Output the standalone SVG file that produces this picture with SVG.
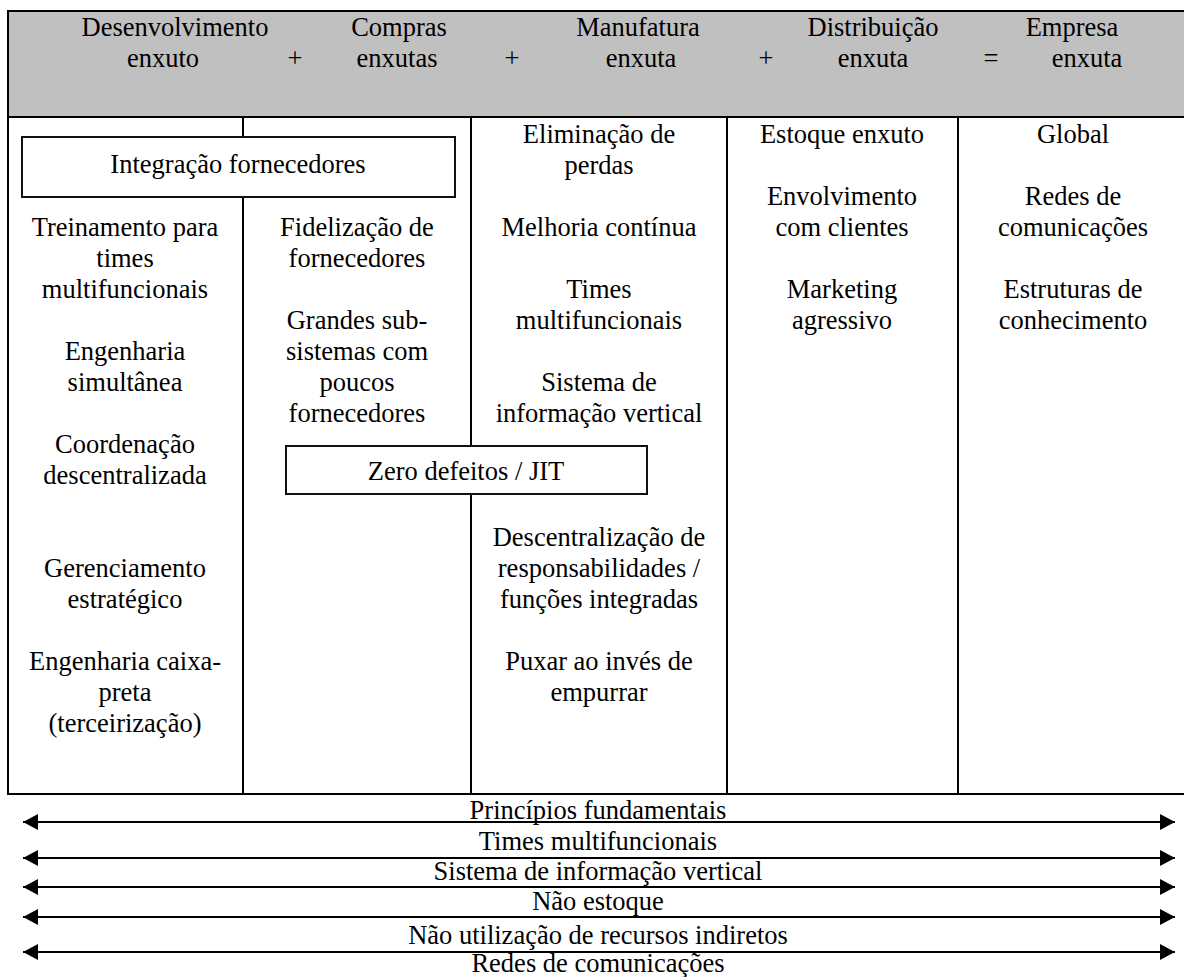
<svg xmlns="http://www.w3.org/2000/svg" width="1184" height="977" viewBox="0 0 1184 977">
<defs>
<style>
text{font-family:"Liberation Serif","Times New Roman",serif;font-size:26.5px;fill:#000;text-anchor:middle}
.grid{stroke:#000;stroke-width:2;fill:none}
.box{fill:#fff;stroke:#111;stroke-width:2}
.arrow{stroke:#000;stroke-width:2;fill:none;marker-start:url(#ah);marker-end:url(#ah)}
</style>
<marker id="ah" markerUnits="userSpaceOnUse" markerWidth="16" markerHeight="16" refX="15" refY="8" orient="auto-start-reverse" viewBox="0 0 16 16">
<path d="M0,0 L15,8 L0,16 z" fill="#000"/>
</marker>
</defs>
<rect width="1184" height="977" fill="#fff"/>
<g id="table">
<rect x="8" y="11" width="1180" height="106" fill="#c0c0c0"/>
<rect class="grid" x="8" y="11" width="1180" height="783"/>
<line class="grid" x1="8" y1="117" x2="1188" y2="117"/>
<line class="grid" x1="243" y1="117" x2="243" y2="794"/>
<line class="grid" x1="471" y1="117" x2="471" y2="794"/>
<line class="grid" x1="727" y1="117" x2="727" y2="794"/>
<line class="grid" x1="958" y1="117" x2="958" y2="794"/>
</g>
<g id="header">
<text x="175" y="36">Desenvolvimento</text>
<text x="163" y="67">enxuto</text>
<text x="295" y="67">+</text>
<text x="399" y="36">Compras</text>
<text x="397" y="67">enxutas</text>
<text x="512" y="67">+</text>
<text x="638" y="36">Manufatura</text>
<text x="641" y="67">enxuta</text>
<text x="766" y="67">+</text>
<text x="873" y="36">Distribuição</text>
<text x="873" y="67">enxuta</text>
<text x="991" y="67">=</text>
<text x="1072" y="36">Empresa</text>
<text x="1087" y="67">enxuta</text>
</g>
<g id="col-desenvolvimento">
<text x="125" y="236">Treinamento para</text>
<text x="125" y="267">times</text>
<text x="125" y="298">multifuncionais</text>
<text x="125" y="360">Engenharia</text>
<text x="125" y="391">simultânea</text>
<text x="125" y="453">Coordenação</text>
<text x="125" y="484">descentralizada</text>
<text x="125" y="577">Gerenciamento</text>
<text x="125" y="608">estratégico</text>
<text x="125" y="670">Engenharia caixa-</text>
<text x="125" y="701">preta</text>
<text x="125" y="732">(terceirização)</text>
</g>
<g id="col-compras">
<text x="357" y="236">Fidelização de</text>
<text x="357" y="267">fornecedores</text>
<text x="357" y="329">Grandes sub-</text>
<text x="357" y="360">sistemas com</text>
<text x="357" y="391">poucos</text>
<text x="357" y="422">fornecedores</text>
</g>
<g id="col-manufatura">
<text x="599" y="143">Eliminação de</text>
<text x="599" y="174">perdas</text>
<text x="599" y="236">Melhoria contínua</text>
<text x="599" y="298">Times</text>
<text x="599" y="329">multifuncionais</text>
<text x="599" y="391">Sistema de</text>
<text x="599" y="422">informação vertical</text>
<text x="599" y="546">Descentralização de</text>
<text x="599" y="577">responsabilidades /</text>
<text x="599" y="608">funções integradas</text>
<text x="599" y="670">Puxar ao invés de</text>
<text x="599" y="701">empurrar</text>
</g>
<g id="col-distribuicao">
<text x="842" y="143">Estoque enxuto</text>
<text x="842" y="205">Envolvimento</text>
<text x="842" y="236">com clientes</text>
<text x="842" y="298">Marketing</text>
<text x="842" y="329">agressivo</text>
</g>
<g id="col-empresa">
<text x="1073" y="143">Global</text>
<text x="1073" y="205">Redes de</text>
<text x="1073" y="236">comunicações</text>
<text x="1073" y="298">Estruturas de</text>
<text x="1073" y="329">conhecimento</text>
</g>
<g id="box-integracao">
<rect class="box" x="22" y="137" width="433" height="60"/>
<text x="238" y="173">Integração fornecedores</text>
</g>
<g id="box-zero-defeitos">
<rect class="box" x="286" y="446" width="361" height="48"/>
<text x="466" y="480">Zero defeitos / JIT</text>
</g>
<g id="connectors">
<line class="arrow" x1="23" y1="822" x2="1175" y2="822"/>
<line class="arrow" x1="23" y1="858" x2="1175" y2="858"/>
<line class="arrow" x1="23" y1="887" x2="1175" y2="887"/>
<line class="arrow" x1="23" y1="917" x2="1175" y2="917"/>
<line class="arrow" x1="23" y1="952" x2="1175" y2="952"/>
</g>
<g id="arrow-labels">
<text x="598" y="819">Princípios fundamentais</text>
<text x="598" y="850">Times multifuncionais</text>
<text x="598" y="880">Sistema de informação vertical</text>
<text x="598" y="910">Não estoque</text>
<text x="598" y="944">Não utilização de recursos indiretos</text>
<text x="598" y="972">Redes de comunicações</text>
</g>
</svg>
